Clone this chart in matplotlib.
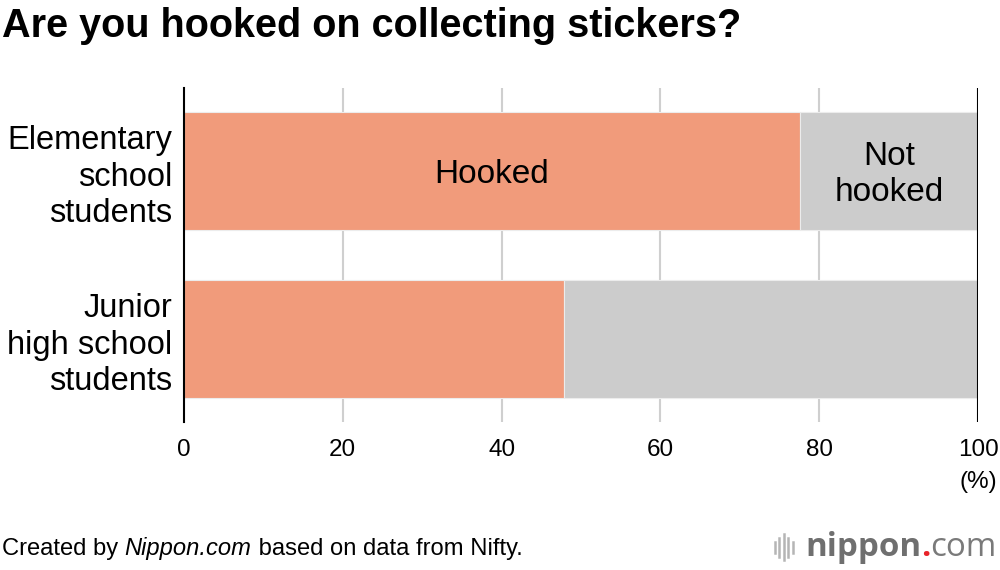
import matplotlib
matplotlib.use("Agg")
import matplotlib.pyplot as plt
from matplotlib.lines import Line2D

# Data
groups = ["Elementary\nschool\nstudents", "Junior\nhigh school\nstudents"]
hooked = [77.6, 47.9]
not_hooked = [100 - v for v in hooked]
xticks = [0, 20, 40, 60, 80, 100]

C_HOOK = "#f19b7b"
C_NOT = "#cccccc"
C_GRID = "#cfcfcf"
FONT = ["Liberation Sans", "DejaVu Sans"]

plt.rcParams["font.family"] = FONT

fig = plt.figure(figsize=(10, 5.7), dpi=100, facecolor="white")
ax = fig.add_axes([0.184, 0.2596, 0.794, 0.586])

ypos = list(range(len(groups)))
ax.barh(ypos, hooked, height=0.70, color=C_HOOK, edgecolor="#ececec",
        linewidth=0.8, zorder=3)
ax.barh(ypos, not_hooked, left=hooked, height=0.70, color=C_NOT,
        edgecolor="#ececec", linewidth=0.8, zorder=3)

ax.set_xlim(0, 100)
ax.set_ylim(1.494, -0.494)

for x in xticks[1:-1]:
    ax.axvline(x, color=C_GRID, linewidth=1.5, zorder=1)
ax.axvline(100, color="black", linewidth=1.5, zorder=4)

for s in ["top", "right", "bottom"]:
    ax.spines[s].set_visible(False)
ax.spines["left"].set_linewidth(1.5)
ax.spines["left"].set_zorder(5)

ax.set_xticks(xticks)
ax.set_xticklabels([str(t) for t in xticks], fontsize=17.5)
ax.tick_params(axis="x", length=0, pad=12)
ax.set_yticks(ypos)
ax.set_yticklabels(groups, fontsize=23.5, linespacing=1.22)
ax.tick_params(axis="y", length=0, pad=8.5)

# In-bar labels
ax.text(hooked[0] / 2, 0.022, "Hooked", ha="center", va="center",
        fontsize=24, zorder=6)
ax.text(hooked[0] + not_hooked[0] / 2, 0.022, "Not\nhooked", ha="center",
        va="center", fontsize=24, linespacing=1.2, zorder=6)

fig.text(0.978, 0.155, "(%)", ha="center", va="center", fontsize=17.5)

fig.text(0.002, 0.955, "Are you hooked on collecting stickers?",
         ha="left", va="center", fontsize=28.5, fontweight="bold")

renderer = fig.canvas.get_renderer()


def chain(x, y, parts):
    # place text pieces one after another on the same baseline
    for s, kw in parts:
        t = fig.text(x, y, s, ha="left", va="baseline", **kw)
        bb = t.get_window_extent(renderer)
        x += bb.width / fig.bbox.width


chain(0.002, 0.026, [("Created by ", dict(fontsize=17.1)),
                     ("Nippon.com", dict(fontsize=17.1, style="italic")),
                     (" based on data from Nifty.", dict(fontsize=17.1))])

# logo
for i, h in enumerate([0.020, 0.034, 0.046, 0.034, 0.020]):
    xx = 0.7745 + i * 0.0045
    fig.add_artist(Line2D([xx, xx], [0.040 - h / 2, 0.040 + h / 2],
                          color="#b5b5b5", linewidth=1.8))
LOGO = ["Open Sans", "DejaVu Sans"]
chain(0.805, 0.025, [("nippon", dict(fontsize=23.8, fontweight="bold",
                                     color="#6f6f6f", family=LOGO)),
                     (".", dict(fontsize=23.8, fontweight="bold",
                                color="#e8242a", family=LOGO)),
                     ("com", dict(fontsize=23.8, color="#7a7a7a",
                                  family=LOGO))])

fig.savefig("out.png", dpi=100, facecolor="white")
